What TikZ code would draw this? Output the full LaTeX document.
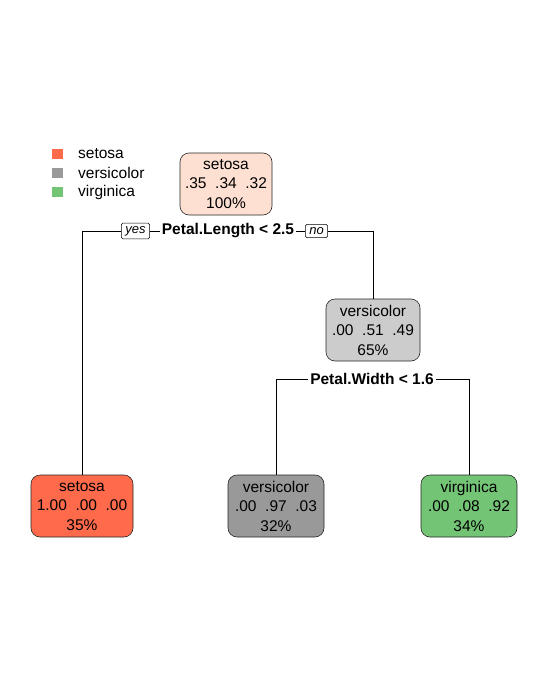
\documentclass[tikz,border=0pt]{standalone}
\usepackage{fontspec}
\setmainfont{Liberation Sans}
\begin{document}
\begin{tikzpicture}[x=1pt,y=-1pt,
  tnode/.style={draw=black!85, rounded corners=9pt, line width=0.6pt, align=center,
    minimum height=62pt, inner xsep=4pt, font=\fontsize{15.5}{19.5}\selectfont},
  splitlbl/.style={fill=white, inner xsep=2pt, inner ysep=1pt, font=\bfseries\fontsize{15.5}{17}\selectfont},
  yn/.style={draw=black, rounded corners=1.5pt, line width=0.5pt, inner xsep=4pt, inner ysep=3pt, font=\itshape\fontsize{13}{14}\selectfont, fill=white},
  conn/.style={line width=0.6pt, black},
  legsq/.style={fill=#1, draw=none, minimum width=11pt, minimum height=10pt, inner sep=0pt},
  legtx/.style={anchor=west, inner sep=0pt, font=\fontsize{15.5}{17}\selectfont}
]
\definecolor{cSet}{HTML}{FF6A4B}
\definecolor{cSetL}{HTML}{FEE0D2}
\definecolor{cVer}{HTML}{999999}
\definecolor{cVerL}{HTML}{CCCCCC}
\definecolor{cVir}{HTML}{74C476}
\useasboundingbox (0,0) rectangle (548,693);
% legend
\node[legsq=cSet] (l1) at (57.5,154) {};
\node[legsq=cVer] (l2) at (57.5,173) {};
\node[legsq=cVir] (l3) at (57.5,192) {};
\node[legtx] (t1) at (78,154) {setosa};
\node[legtx] (t2) at (78,173) {versicolor};
\node[legtx] (t3) at (78,192) {virginica};
% nodes
\node[tnode, fill=cSetL, minimum width=92pt] (n1) at (226,184) {setosa\\.35\ \ .34\ \ .32\\100\%};
\node[tnode, fill=cVerL, minimum width=94pt] (n2) at (373,330) {versicolor\\.00\ \ .51\ \ .49\\65\%};
\node[tnode, fill=cSet, minimum width=102pt] (n3) at (82,506) {setosa\\1.00\ \ .00\ \ .00\\35\%};
\node[tnode, fill=cVer, minimum width=96pt] (n4) at (276,506) {versicolor\\.00\ \ .97\ \ .03\\32\%};
\node[tnode, fill=cVir, minimum width=96pt] (n5) at (469,506) {virginica\\.00\ \ .08\ \ .92\\34\%};
% split 1
\node[splitlbl] (s1) at (228,231) {Petal.Length < 2.5};
\node[yn] (yes) at (135.5,231) {yes};
\node[yn] (no) at (316.5,231) {no};
\draw[conn] (yes.west) -| (n3.north);
\draw[conn] (yes.east) -- (s1.west);
\draw[conn] (s1.east) -- (no.west);
\draw[conn] (no.east) -| (n2.north);
% split 2
\node[splitlbl] (s2) at (372,379) {Petal.Width < 1.6};
\draw[conn] (s2.west) -| (n4.north);
\draw[conn] (s2.east) -| (n5.north);
\end{tikzpicture}
\end{document}
